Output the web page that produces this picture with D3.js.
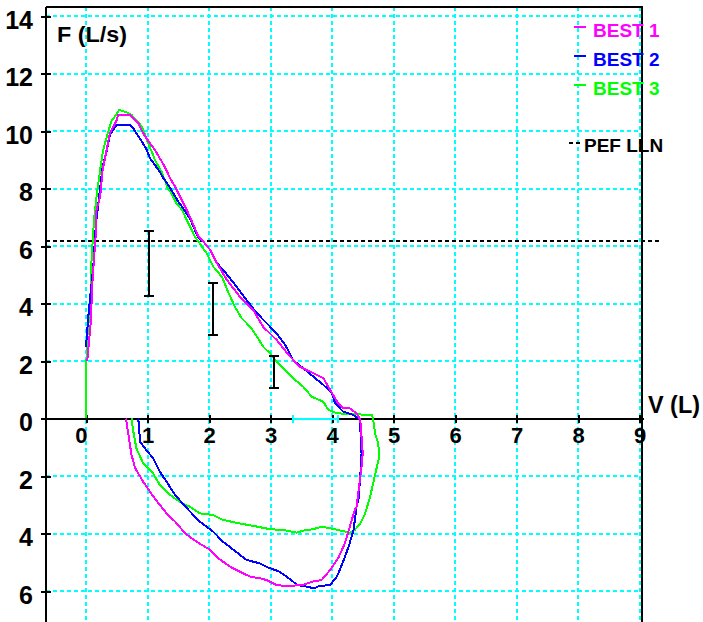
<!DOCTYPE html>
<html><head><meta charset="utf-8">
<script src="https://cdn.jsdelivr.net/npm/d3@7"></script>
<style>
html,body{margin:0;padding:0;background:#fff;}
svg{display:block;}
text{font-family:"Liberation Sans Narrow","Liberation Sans",Arial,sans-serif;font-weight:bold;}
</style></head><body>
<svg id="chart" width="703" height="622"></svg>
<script>
// ---------------- DATA ----------------
const volumeTicks = [0,1,2,3,4,5,6,7,8,9];
const flowTicks = [14,12,10,8,6,4,2,0,-2,-4,-6];
const seriesNames = ["BEST 1","BEST 2","BEST 3"];
const seriesColors = ["#FF00FF","#0000FF","#00FF00"];
const pefLLN = 6.17;
const errV  = [1.02, 2.06, 3.06];
const errLo = [4.27, 2.90, 1.05];
const errHi = [6.53, 4.72, 2.17];
const predVolRange = [3.36, 4.09];

// [volume L, flow L/s]  (inspiration as negative flow)
const best1 = [
 [0.02,2.0],[0.08,3.4],[0.10,4.6],[0.16,6.45],[0.17,7.25],[0.23,7.71],[0.27,8.64],[0.39,9.93],[0.50,10.38],
 [0.52,10.56],[0.72,10.56],[0.77,10.44],[0.85,10.27],[0.93,9.92],[1.04,9.57],[1.12,9.34],[1.20,9.05],
 [1.28,8.76],[1.37,8.35],[1.45,8.06],[1.53,7.71],[1.61,7.37],[1.69,7.02],[1.77,6.62],[1.83,6.32],
 [1.91,6.15],[2.02,5.86],[2.13,5.40],[2.29,4.82],[2.50,4.24],[2.72,3.77],[2.88,3.19],[3.10,2.73],
 [3.32,2.15],[3.48,1.80],[3.70,1.57],[3.86,1.40],[3.94,1.11],[4.05,0.70],[4.10,0.53],[4.18,0.35],
 [4.29,0.35],[4.40,0.18],[4.46,-0.05],
 [4.50,-1.21],[4.48,-1.68],[4.40,-3.07],[4.37,-3.18],[4.29,-3.76],[4.21,-4.34],[4.10,-4.86],[3.97,-5.27],
 [3.83,-5.62],[3.67,-5.68],[3.53,-5.79],[3.26,-5.83],[3.10,-5.79],[2.94,-5.62],[2.83,-5.56],[2.67,-5.50],
 [2.50,-5.33],[2.34,-5.15],[2.15,-4.86],[2.02,-4.57],[1.80,-4.29],[1.61,-3.99],[1.45,-3.59],[1.31,-3.30],
 [1.18,-2.95],[1.04,-2.55],[0.93,-2.20],[0.80,-1.73],[0.74,-1.27],[0.69,-0.57],[0.65,0.0]
];
const best2 = [
 [0,2.49],[0.04,3.60],[0.12,5.34],[0.16,6.73],[0.22,7.84],[0.27,8.75],[0.34,9.34],[0.39,9.86],[0.44,10.03],
 [0.50,10.21],[0.72,10.21],[0.77,10.09],[0.82,9.92],[0.91,9.63],[0.99,9.34],[1.04,9.05],[1.12,8.82],
 [1.20,8.58],[1.26,8.35],[1.34,8.12],[1.42,7.83],[1.50,7.54],[1.58,7.31],[1.69,6.96],[1.77,6.56],
 [1.83,6.27],[1.91,6.15],[2.02,5.86],[2.13,5.40],[2.23,5.17],[2.34,4.88],[2.45,4.58],[2.61,4.12],
 [2.78,3.66],[2.94,3.31],[3.10,2.96],[3.24,2.56],[3.37,2.03],[3.53,1.75],[3.70,1.45],[3.86,1.17],
 [4.00,0.88],[4.05,0.53],[4.18,0.24],[4.35,0.12],[4.46,-0.05],
 [4.46,-0.29],[4.48,-1.21],[4.46,-2.02],[4.43,-2.83],[4.40,-3.07],[4.35,-3.88],[4.27,-4.46],[4.18,-4.98],
 [4.08,-5.50],[3.97,-5.79],[3.78,-5.83],[3.72,-5.91],[3.59,-5.85],[3.43,-5.79],[3.32,-5.59],[3.15,-5.33],
 [2.96,-5.18],[2.83,-5.04],[2.70,-4.97],[2.61,-4.92],[2.40,-4.57],[2.23,-4.29],[2.07,-3.94],[1.85,-3.59],
 [1.64,-3.12],[1.45,-2.66],[1.31,-2.20],[1.20,-1.85],[1.09,-1.38],[0.96,-1.04],[0.88,-0.81],[0.85,0.0]
];
const best3 = [
 [0,0],[0.01,2.49],[0.07,4.12],[0.09,5.51],[0.13,6.90],[0.17,7.70],[0.23,8.64],[0.27,9.23],[0.31,9.58],
 [0.36,9.97],[0.42,10.38],[0.47,10.50],[0.54,10.73],[0.68,10.63],[0.74,10.56],[0.82,10.38],[0.91,10.15],
 [0.96,9.86],[1.01,9.57],[1.07,9.28],[1.12,8.99],[1.18,8.76],[1.23,8.58],[1.28,8.30],[1.32,8.04],
 [1.39,7.83],[1.47,7.49],[1.56,7.26],[1.64,6.90],[1.72,6.56],[1.77,6.32],[1.85,6.09],[1.96,5.75],
 [2.07,5.28],[2.21,4.93],[2.31,4.41],[2.42,3.89],[2.53,3.49],[2.67,3.19],[2.78,2.85],[2.88,2.50],
 [2.99,2.27],[3.10,1.98],[3.26,1.63],[3.40,1.34],[3.53,1.11],[3.67,0.76],[3.86,0.58],[3.94,0.30],
 [4.08,0.18],[4.65,0.12],[4.67,-0.05],
 [4.70,-0.51],[4.75,-0.86],[4.77,-1.33],[4.73,-1.68],[4.67,-2.25],[4.62,-2.72],[4.54,-3.30],[4.46,-3.65],
 [4.37,-3.88],[4.29,-3.97],[4.10,-3.88],[3.97,-3.82],[3.83,-3.76],[3.70,-3.85],[3.53,-3.90],[3.43,-3.97],
 [3.21,-3.88],[2.99,-3.85],[2.78,-3.76],[2.50,-3.65],[2.23,-3.53],[2.07,-3.36],[1.85,-3.30],[1.69,-3.07],
 [1.53,-2.91],[1.37,-2.66],[1.20,-2.31],[1.09,-1.91],[0.93,-1.56],[0.82,-1.04],[0.77,-0.46],[0.74,0.0]
];
const seriesData = [best1, best2, best3];

// ---------------- LAYOUT ----------------
const W = 703, H = 622;
const frameL = 46, frameT = 7, frameR = 642, frameB = 622;
const x = d3.scaleLinear().domain([0, 9]).range([86, 639.5]);
const y = d3.scaleLinear().domain([0, 14]).range([418.5, 16]);
const svg = d3.select("#chart");
const cyan = "#00FFFF";
const fontFam = '"Liberation Sans Narrow","Liberation Sans",Arial,sans-serif';

// grid
const grid = svg.append("g").attr("shape-rendering","crispEdges");
grid.selectAll("line.v").data(volumeTicks).join("line")
  .attr("x1", d => Math.round(x(d))).attr("x2", d => Math.round(x(d)))
  .attr("y1", frameT).attr("y2", frameB)
  .attr("stroke", cyan).attr("stroke-width", 2).attr("stroke-dasharray", "4,3");
grid.selectAll("line.h").data(flowTicks.filter(d => d !== 0)).join("line")
  .attr("x1", frameL).attr("x2", frameR)
  .attr("y1", d => Math.round(y(d))).attr("y2", d => Math.round(y(d)))
  .attr("stroke", cyan).attr("stroke-width", 2).attr("stroke-dasharray", "4,3");

// frame lines
const frame = svg.append("g").attr("shape-rendering","crispEdges").attr("stroke","#000").attr("stroke-width",2);
frame.append("line").attr("x1",frameL).attr("x2",frameL).attr("y1",frameT).attr("y2",frameB);
frame.append("line").attr("x1",frameL).attr("x2",frameR+1).attr("y1",frameT).attr("y2",frameT);
frame.append("line").attr("x1",frameR).attr("x2",frameR).attr("y1",frameT).attr("y2",frameB);
frame.append("line").attr("x1",43).attr("x2",644).attr("y1",Math.round(y(0))).attr("y2",Math.round(y(0)));

// y axis ticks + labels
const yAx = svg.append("g").attr("transform", `translate(${frameL},0)`)
  .call(d3.axisLeft(y).tickValues(flowTicks).tickSize(5).tickPadding(8).tickFormat(d => Math.abs(d)));
yAx.select(".domain").remove();
yAx.selectAll(".tick line").attr("x1",-5).attr("x2",5).attr("stroke","#000").attr("stroke-width",2).attr("shape-rendering","crispEdges");
yAx.selectAll(".tick text").attr("dy","12").attr("font-size",25).attr("fill","#000")
  .style("font-family",fontFam).style("font-weight","bold");

// x axis ticks + labels
const xAx = svg.append("g").attr("transform", `translate(0,${y(0)})`)
  .call(d3.axisBottom(x).tickValues(volumeTicks).tickSize(4).tickFormat(d => d));
xAx.select(".domain").remove();
xAx.selectAll(".tick line").attr("y1",-4).attr("y2",4).attr("stroke","#000").attr("stroke-width",2).attr("shape-rendering","crispEdges");
xAx.selectAll(".tick text").attr("y",24.5).attr("dy","0").attr("font-size",22).attr("fill","#000")
  .attr("text-anchor", d => d === 0 ? "end" : "middle").attr("dx", d => d === 0 ? 1 : 0)
  .style("font-family",fontFam).style("font-weight","bold");

// PEF LLN line
svg.append("line").attr("x1",frameL).attr("x2",660)
  .attr("y1",Math.round(y(pefLLN))).attr("y2",Math.round(y(pefLLN)))
  .attr("stroke","#000").attr("stroke-width",2).attr("stroke-dasharray","4,3").attr("shape-rendering","crispEdges");

// curves
const line = d3.line().x(d => x(d[0])).y(d => y(d[1]));
svg.append("g").selectAll("path").data(seriesData.map((d,i)=>({d,i})).reverse()).join("path")
  .attr("d", s => line(s.d)).attr("fill","none")
  .attr("stroke", s => seriesColors[s.i]).attr("stroke-width",2).attr("shape-rendering","crispEdges");

// error bars
const eb = svg.append("g").attr("stroke","#000").attr("stroke-width",2).attr("shape-rendering","crispEdges");
errV.forEach((v,i) => {
  const cx = Math.round(x(v));
  eb.append("line").attr("x1",cx).attr("x2",cx).attr("y1",y(errHi[i])).attr("y2",y(errLo[i]));
  eb.append("line").attr("x1",cx-5).attr("x2",cx+5).attr("y1",Math.round(y(errHi[i]))).attr("y2",Math.round(y(errHi[i])));
  eb.append("line").attr("x1",cx-5).attr("x2",cx+5).attr("y1",Math.round(y(errLo[i]))).attr("y2",Math.round(y(errLo[i])));
});

// predicted volume range (cyan) on axis
const pr = svg.append("g").attr("stroke",cyan).attr("stroke-width",2).attr("shape-rendering","crispEdges");
const y0 = Math.round(y(0));
pr.append("line").attr("x1",x(predVolRange[0])).attr("x2",x(predVolRange[1])).attr("y1",y0).attr("y2",y0);
predVolRange.forEach(v => pr.append("line").attr("x1",Math.round(x(v))).attr("x2",Math.round(x(v))).attr("y1",y0-4).attr("y2",y0+4));

// axis titles
svg.append("text").attr("x",57).attr("y",42).attr("font-size",22).attr("fill","#000")
  .attr("textLength",70).attr("lengthAdjust","spacingAndGlyphs").text("F (L/s)");
svg.append("text").attr("x",648).attr("y",413).attr("font-size",23).attr("fill","#000")
  .attr("textLength",52).attr("lengthAdjust","spacingAndGlyphs").text("V (L)");

// legend
const legY = [27, 56, 85];
seriesNames.forEach((n,i) => {
  svg.append("line").attr("x1",574).attr("x2",586).attr("y1",legY[i]).attr("y2",legY[i])
    .attr("stroke",seriesColors[i]).attr("stroke-width",2).attr("shape-rendering","crispEdges");
  svg.append("text").attr("x",593).attr("y",legY[i]+10).attr("font-size",19).attr("fill",seriesColors[i]).text(n);
});
svg.append("line").attr("x1",569).attr("x2",581).attr("y1",143).attr("y2",143)
  .attr("stroke","#000").attr("stroke-width",2).attr("stroke-dasharray","4,3").attr("shape-rendering","crispEdges");
svg.append("text").attr("x",584).attr("y",152).attr("font-size",19).attr("fill","#000").text("PEF LLN");
</script></body></html>
